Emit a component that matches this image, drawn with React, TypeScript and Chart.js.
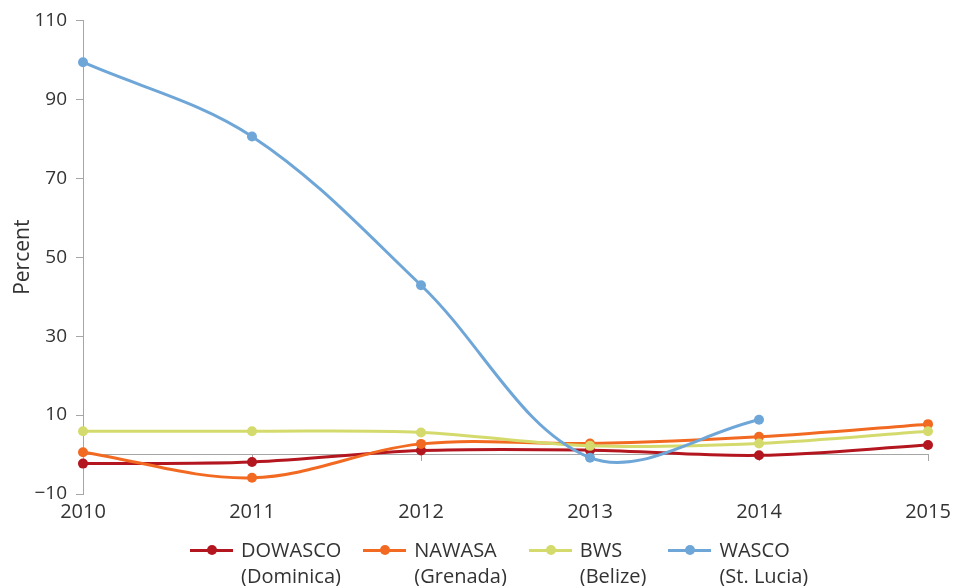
import React, { useEffect, useRef } from "react";
import { Chart, registerables } from "chart.js";

Chart.register(...registerables);

const years = ["2010", "2011", "2012", "2013", "2014", "2015"];
const dowasco = [-2.3, -1.9, 1.0, 1.1, -0.2, 2.4];
const nawasa = [0.6, -5.9, 2.7, 2.8, 4.5, 7.7];
const bws = [5.9, 5.9, 5.6, 2.2, 2.8, 5.9];
const wasco = [99.4, 80.6, 42.9, -0.8, 8.8, null];

const yMin = -10;
const yMax = 110;
const yStep = 20;

const seriesNames = [
  ["DOWASCO", "(Dominica)"],
  ["NAWASA", "(Grenada)"],
  ["BWS", "(Belize)"],
  ["WASCO", "(St. Lucia)"],
];
const seriesColors = ["#B3161F", "#F26A22", "#D4DB6C", "#6FA6D8"];
const seriesData = [dowasco, nawasa, bws, wasco];

const FONT = "'Open Sans', 'Noto Sans', sans-serif";
const AXIS_GRAY = "#A6A6A6";
const TEXT = "#333333";

export default function App() {
  const canvasRef = useRef<HTMLCanvasElement | null>(null);

  useEffect(() => {
    if (!canvasRef.current) return;
    const chart = new Chart(canvasRef.current, {
      type: "line",
      data: {
        labels: years,
        datasets: seriesData.map((d, i) => ({
          label: seriesNames[i].join(" "),
          data: d,
          borderColor: seriesColors[i],
          backgroundColor: seriesColors[i],
          pointBackgroundColor: seriesColors[i],
          pointBorderWidth: 0,
          pointRadius: 5,
          pointHoverRadius: 5,
          borderWidth: 3,
          tension: 0.35,
          fill: false,
          spanGaps: false,
          order: seriesData.length - i,
          xAxisID: "x",
        })),
      },
      options: {
        animation: false,
        responsive: true,
        maintainAspectRatio: false,
        layout: { padding: { top: 20, right: 25, left: 0, bottom: 0 } },
        plugins: {
          legend: { display: false },
          tooltip: { enabled: false },
          title: { display: false },
        },
        events: [],
        scales: {
          x: {
            type: "category",
            position: "bottom",
            offset: false,
            grid: { display: false, drawTicks: false },
            border: { display: false },
            ticks: {
              color: TEXT,
              font: { family: FONT, size: 20 },
              padding: 6,
              maxRotation: 0,
              autoSkip: false,
            },
            afterFit: (s: any) => {
              s.height = 92;
              s.paddingRight = 0;
              s.paddingLeft = 0;
            },
          },
          x2: {
            type: "category",
            position: { y: 0 } as any,
            offset: false,
            grid: {
              display: true,
              drawOnChartArea: false,
              drawTicks: true,
              tickLength: 6,
              color: AXIS_GRAY,
            },
            border: { display: true, color: AXIS_GRAY, width: 1 },
            ticks: { display: false },
          },
          y: {
            type: "linear",
            min: yMin,
            max: yMax,
            grid: {
              drawOnChartArea: false,
              drawTicks: true,
              tickLength: 7,
              color: AXIS_GRAY,
            },
            border: { display: true, color: AXIS_GRAY, width: 1 },
            ticks: {
              stepSize: yStep,
              color: TEXT,
              font: { family: FONT, size: 19 },
              padding: 9,
              callback: (v: any) => (Number(v) < 0 ? "\u2212" + Math.abs(Number(v)) : String(v)),
            },
            title: {
              display: true,
              text: "Percent",
              color: TEXT,
              font: { family: FONT, size: 21 },
              padding: { top: 10, bottom: 0 },
            },
            afterFit: (s: any) => {
              s.width = 83;
            },
          },
        },
      },
    });
    return () => chart.destroy();
  }, []);

  return (
    <div style={{ position: "absolute", left: 0, top: 0, width: 953, height: 586, background: "#fff" }}>
      <div style={{ position: "absolute", left: 0, top: 0, width: 953, height: 586 }}>
        <canvas ref={canvasRef} />
      </div>
      <div
        style={{
          position: "absolute",
          left: 190,
          top: 537,
          display: "flex",
          gap: 22,
          fontFamily: FONT,
          fontSize: 20,
          lineHeight: "26px",
          color: TEXT,
        }}
      >
        {seriesNames.map((n, i) => (
          <div key={i} style={{ display: "flex", alignItems: "flex-start" }}>
            <div style={{ position: "relative", width: 43, height: 26, marginRight: 8 }}>
              <div
                style={{
                  position: "absolute",
                  left: 0,
                  right: 0,
                  top: 11.5,
                  height: 3,
                  background: seriesColors[i],
                }}
              />
              <div
                style={{
                  position: "absolute",
                  left: 17,
                  top: 8,
                  width: 10,
                  height: 10,
                  borderRadius: 5,
                  background: seriesColors[i],
                }}
              />
            </div>
            <div>
              <div>{n[0]}</div>
              <div>{n[1]}</div>
            </div>
          </div>
        ))}
      </div>
    </div>
  );
}
